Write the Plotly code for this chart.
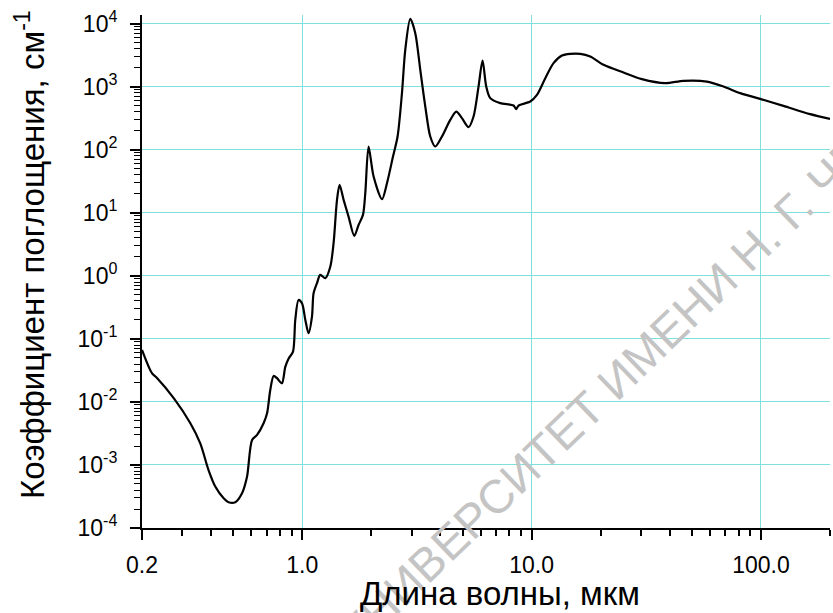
import plotly.graph_objects as go

# Absorption spectrum: wavelength (um) and absorption coefficient (cm^-1)
wavelength_um = [
    0.200, 0.221, 0.233, 0.275, 0.325, 0.359, 0.390, 0.418, 0.454, 0.477,
    0.510, 0.546, 0.574, 0.604, 0.635, 0.678, 0.702, 0.725, 0.750, 0.776,
    0.815, 0.843, 0.872, 0.911, 0.932, 0.963, 0.997, 1.031, 1.065, 1.102,
    1.120, 1.159, 1.198, 1.260, 1.325, 1.369, 1.417, 1.454, 1.514, 1.591,
    1.685, 1.760, 1.839, 1.882, 1.945, 2.046, 2.226, 2.340, 2.486, 2.603,
    2.720, 2.812, 2.957, 3.109, 3.269, 3.438, 3.614, 3.800, 4.064, 4.418,
    4.692, 4.968, 5.308, 5.581, 5.868, 6.109, 6.340, 6.599, 7.297, 8.340,
    8.569, 8.768, 9.860, 10.55, 11.47, 12.46, 13.56, 14.73, 16.29, 18.01,
    20.58, 25.16, 30.26, 38.23, 45.93, 58.10, 68.60, 81.20, 99.20, 125.3,
    163.9, 200.0,
]
absorption_cm = [
    0.067, 0.0286, 0.0238, 0.0115, 0.0046, 0.0022, 0.00083, 0.00045, 0.000296, 0.000256,
    0.000256, 0.000356, 0.00065, 0.0025, 0.0030, 0.0046, 0.0066, 0.0155, 0.0259, 0.0238,
    0.0198, 0.036, 0.049, 0.063, 0.20, 0.416, 0.369, 0.20, 0.123, 0.226,
    0.53, 0.766, 1.04, 0.918, 1.41, 3.30, 16.1, 27.8, 16.1, 8.73,
    4.31, 6.45, 9.3, 20.5, 113.0, 37.7, 16.5, 29.6, 78.3, 163.0,
    794.0, 3865.0, 12000.0, 7110.0, 1862.0, 487.0, 163.0, 113.0, 163.0, 299.0,
    405.0, 319.0, 229.0, 338.0, 1011.0, 2614.0, 1011.0, 662.0, 551.0, 505.0,
    443.0, 505.0, 585.0, 746.0, 1374.0, 2377.0, 3140.0, 3342.0, 3342.0, 3027.0,
    2234.0, 1687.0, 1324.0, 1145.0, 1245.0, 1213.0, 1011.0, 794.0, 644.0, 499.0,
    369.0, 310.0,
]

x_tick_vals = [0.2, 1.0, 10.0, 100.0]
x_tick_text = ["0.2", "1.0", "10.0", "100.0"]
y_exponents = [-4, -3, -2, -1, 0, 1, 2, 3, 4]

x_minor = [m * 10 ** d for d in (-1, 0, 1, 2) for m in range(2, 10)
           if 0.2 <= m * 10 ** d <= 200]
y_minor = [m * 10 ** d for d in range(-4, 4) for m in range(2, 10)]

GRID = "#7fe0e0"
FONT = "Liberation Sans, Arial, sans-serif"

fig = go.Figure()
fig.add_trace(go.Scatter(
    x=wavelength_um, y=absorption_cm, mode="lines",
    line=dict(color="black", width=2.2, shape="spline", smoothing=0.8),
    hoverinfo="x+y", showlegend=False,
))

fig.update_layout(
    width=833, height=613,
    margin=dict(l=142, r=3, t=15, b=85),
    paper_bgcolor="white", plot_bgcolor="white",
    font=dict(family=FONT, color="black"),
    xaxis=dict(
        type="log", range=[0.30103 - 1, 2.30103],
        tickmode="array", tickvals=x_tick_vals, ticktext=x_tick_text,
        ticks="outside", ticklen=10, tickwidth=1.5, tickcolor="black",
        tickfont=dict(size=23), ticklabelstandoff=5,
        showline=True, linecolor="black", linewidth=2,
        showgrid=True, gridcolor=GRID, gridwidth=1,
        zeroline=False,
        minor=dict(tickmode="array", tickvals=x_minor, ticks="outside",
                   ticklen=6, tickwidth=1.5, tickcolor="black", showgrid=False),
    ),
    yaxis=dict(
        type="log", range=[-4, 4.14],
        tickmode="array", tickvals=[10.0 ** e for e in y_exponents],
        ticktext=[f"10<sup>{e}</sup>" for e in y_exponents],
        ticks="outside", ticklen=10, tickwidth=1.5, tickcolor="black",
        tickfont=dict(size=23), ticklabelstandoff=8,
        showline=True, linecolor="black", linewidth=2,
        showgrid=True, gridcolor=GRID, gridwidth=1,
        zeroline=False,
        minor=dict(tickmode="array", tickvals=y_minor, ticks="outside",
                   ticklen=6, tickwidth=1.2, tickcolor="black", showgrid=False),
    ),
    annotations=[
        # diagonal watermark first, so the axis titles sit on top of it
        dict(text="УНИВЕРСИТЕТ ИМЕНИ Н. Г. ЧЕРНЫШЕВСКОГО", xref="paper", yref="paper",
             x=0.862, y=0.512, xanchor="center", yanchor="middle", textangle=-44,
             showarrow=False, font=dict(size=47, color="#c4c4c4")),
        dict(text="Длина волны, мкм", xref="paper", yref="paper",
             x=0.520, y=-0.127, xanchor="center", yanchor="middle",
             showarrow=False, font=dict(size=33, color="black")),
        dict(text="Коэффициент поглощения, см<sup>-1</sup>", xref="paper", yref="paper",
             x=-0.163, y=0.534, xanchor="center", yanchor="middle", textangle=-90,
             showarrow=False, font=dict(size=33, color="black")),
    ],
)

fig.write_html("out.html")
